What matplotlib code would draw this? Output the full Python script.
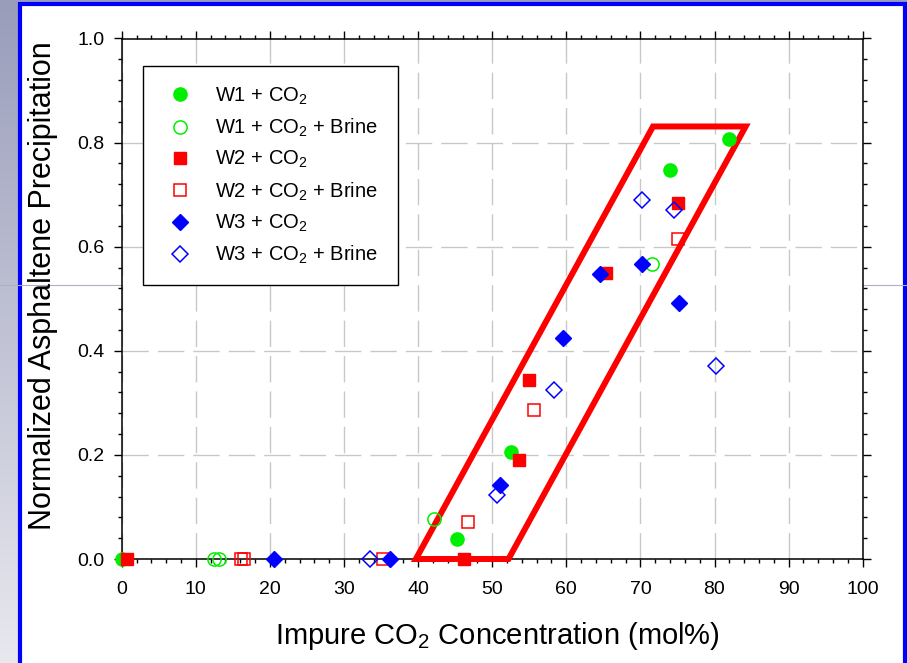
import numpy as np
import matplotlib
matplotlib.use('Agg')
import matplotlib.pyplot as plt
from matplotlib.patches import Polygon, Rectangle
from matplotlib.lines import Line2D
from matplotlib.ticker import MultipleLocator

plt.rcParams['font.family'] = ['Liberation Sans', 'DejaVu Sans']
plt.rcParams['mathtext.fontset'] = 'custom'
plt.rcParams['mathtext.rm'] = 'Liberation Sans'
plt.rcParams['mathtext.it'] = 'Liberation Sans:italic'

# asphaltene precipitation vs impure CO2 concentration (mol%)
w1_x = [0.0, 45.2, 52.5, 74.0, 81.9]
w1_y = [0.0, 0.038, 0.206, 0.748, 0.806]
w1b_x = [12.4, 13.1, 42.1, 71.6]
w1b_y = [0.0, 0.0, 0.077, 0.567]
w2_x = [0.7, 46.2, 53.6, 54.9, 65.4, 75.1]
w2_y = [0.0, 0.0, 0.190, 0.344, 0.550, 0.683]
w2b_x = [16.1, 16.5, 35.2, 46.7, 55.6, 75.1]
w2b_y = [0.0, 0.0, 0.0, 0.071, 0.287, 0.615]
w3_x = [20.6, 36.2, 51.0, 59.5, 64.5, 70.2, 75.2]
w3_y = [0.0, 0.0, 0.142, 0.425, 0.548, 0.567, 0.492]
w3b_x = [33.5, 50.7, 58.3, 70.2, 74.5, 80.2]
w3b_y = [0.0, 0.123, 0.325, 0.690, 0.671, 0.371]

# onset envelope
box_x = [39.7, 52.2, 84.2, 71.7]
box_y = [0.0, 0.0, 0.831, 0.831]

W, H = 907, 663
fig = plt.figure(figsize=(W / 100, H / 100), dpi=100)

# slide background: grey-blue gradient, white panel with blue border
bg = fig.add_axes([0, 0, 1, 1], zorder=-5)
bg.set_xlim(0, W)
bg.set_ylim(H, 0)
bg.axis('off')
c_top = np.array([0.60, 0.615, 0.73])
c_bot = np.array([0.91, 0.91, 0.935])
t = np.linspace(0, 1, 256)[:, None]
grad = (c_top * (1 - t) + c_bot * t)[:, None, :]
bg.imshow(np.repeat(grad, 2, axis=1), extent=[0, W, H, 0], aspect='auto')
bg.add_patch(Rectangle((19.5, 4), 885, H + 10, facecolor='white',
                       edgecolor='#0000ff', linewidth=3))
bg.add_line(Line2D([0, W], [285, 285], color='#b0b0c0', linewidth=0.8))

ax = fig.add_axes([121.7 / W, 1 - 559 / H, 741 / W, 520.5 / H])
ax.set_facecolor('white')

green = '#00ee00'
ax.plot(w1_x, w1_y, 'o', ms=9.5, color=green, mec=green, ls='none',
        clip_on=False, zorder=4, label='W1 + CO$_2$')
ax.plot(w1b_x, w1b_y, 'o', ms=9.5, mfc='none', mec=green, mew=1.1,
        ls='none', clip_on=False, zorder=4, label='W1 + CO$_2$ + Brine')
ax.plot(w2_x, w2_y, 's', ms=8.6, color='red', ls='none',
        clip_on=False, zorder=4, label='W2 + CO$_2$')
ax.plot(w2b_x, w2b_y, 's', ms=8.6, mfc='none', mec='red', mew=1.1,
        ls='none', clip_on=False, zorder=4, label='W2 + CO$_2$ + Brine')
ax.plot(w3_x, w3_y, 'D', ms=8.2, color='blue', ls='none',
        clip_on=False, zorder=4, label='W3 + CO$_2$')
ax.plot(w3b_x, w3b_y, 'D', ms=8.2, mfc='none', mec='blue', mew=1.1,
        ls='none', clip_on=False, zorder=4, label='W3 + CO$_2$ + Brine')

ax.add_patch(Polygon(list(zip(box_x, box_y)), closed=True, fill=False,
                     edgecolor='red', linewidth=4.3, joinstyle='miter',
                     clip_on=False, zorder=3))

ax.set_xlim(0, 100)
ax.set_ylim(0, 1.0)
ax.xaxis.set_major_locator(MultipleLocator(10))
ax.xaxis.set_minor_locator(MultipleLocator(2))
ax.yaxis.set_major_locator(MultipleLocator(0.2))
ax.yaxis.set_minor_locator(MultipleLocator(0.04))
ax.yaxis.set_major_formatter(matplotlib.ticker.FormatStrFormatter('%.1f'))

ax.tick_params(which='both', direction='out', top=True, right=True,
               width=1.0, colors='black', labelsize=14)
ax.tick_params(which='major', length=5.5)
ax.tick_params(which='minor', length=3.2)
ax.tick_params(axis='x', which='major', pad=10.5)
ax.tick_params(axis='y', which='major', pad=7)
for sp in ax.spines.values():
    sp.set_linewidth(1.1)

ax.grid(True, which='major', color='#c8c8c8', linewidth=1.0,
        linestyle=(0, (19, 6.5)))
ax.set_axisbelow(True)

ax.set_xlabel('Impure CO$_2$ Concentration (mol%)', fontsize=21)
ax.set_ylabel('Normalized Asphaltene Precipitation', fontsize=22)
ax.xaxis.set_label_coords(0.507, -0.118)
ax.yaxis.set_label_coords(-0.086, 0.5245)

leg = ax.legend(loc='upper left', bbox_to_anchor=(0.0287, 0.947),
                borderaxespad=0, fontsize=14.5, frameon=True, fancybox=False,
                edgecolor='black', framealpha=1, borderpad=0.95,
                handlelength=1.8, handletextpad=0.85, labelspacing=0.5)
leg.get_frame().set_linewidth(1.0)
leg.set_zorder(5)

fig.savefig('out.png', dpi=100)
